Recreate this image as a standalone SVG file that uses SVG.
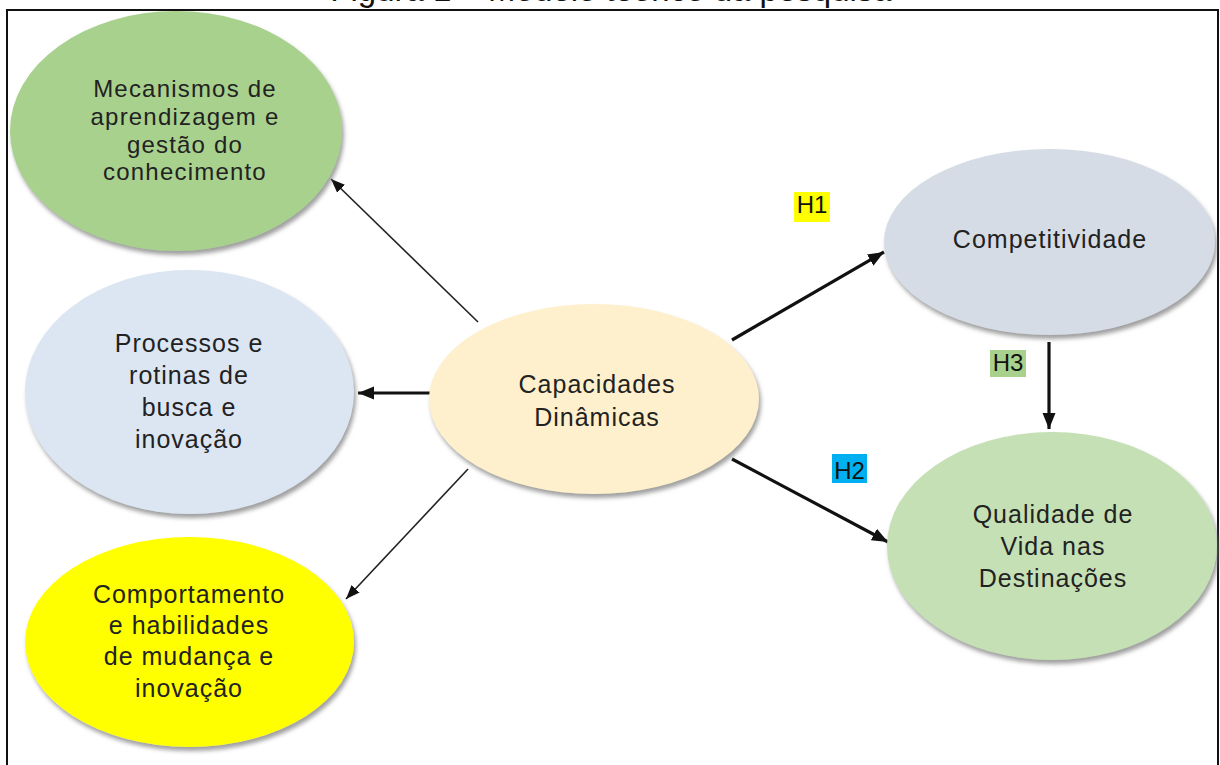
<svg xmlns="http://www.w3.org/2000/svg" width="1220" height="765" viewBox="0 0 1220 765">
<style>
  .t { font-family: "Liberation Sans", Arial, sans-serif; font-size: 25px; fill: #222; text-anchor: middle; letter-spacing: 1px; }
  .tg { font-size: 24px; letter-spacing: 1.2px; }
  .h { font-family: "Liberation Sans", Arial, sans-serif; font-size: 24px; fill: #111; text-anchor: middle; }
  .thin { stroke: #222; stroke-width: 1.6; fill: none; }
  .thick { stroke: #111; stroke-width: 3.2; fill: none; }
  .node { filter: url(#sh); }
</style>
<defs>
  <filter id="sh" x="-10%" y="-10%" width="125%" height="130%">
    <feDropShadow dx="2" dy="4" stdDeviation="2" flood-color="#777" flood-opacity="0.7"/>
  </filter>
  <marker id="aThin" markerUnits="userSpaceOnUse" markerWidth="16" markerHeight="14" refX="14" refY="7" orient="auto">
    <path d="M0,1.5 L14,7 L0,12.5 Z" fill="#111"/>
  </marker>
  <marker id="aThick" markerUnits="userSpaceOnUse" markerWidth="18" markerHeight="16" refX="16" refY="8" orient="auto">
    <path d="M0,1.5 L16,8 L0,14.5 Z" fill="#111"/>
  </marker>
</defs>
<rect width="1220" height="765" fill="#fff"/>
<text x="611" y="0.5" class="h" style="font-size:33px">Figura 1 – Modelo teórico da pesquisa</text>
<rect x="7" y="10" width="1211" height="780" fill="none" stroke="#111" stroke-width="2"/>

<g id="connectors">
  <line class="thin" x1="478" y1="322" x2="331" y2="179" marker-end="url(#aThin)"/>
  <line class="thick" x1="433" y1="393" x2="358" y2="393" marker-end="url(#aThick)"/>
  <line class="thin" x1="468" y1="469" x2="346" y2="599" marker-end="url(#aThin)"/>
  <line class="thick" x1="732" y1="340" x2="884" y2="252" marker-end="url(#aThick)"/>
  <line class="thick" x1="732" y1="459" x2="888" y2="542" marker-end="url(#aThick)"/>
  <line class="thick" x1="1049" y1="342" x2="1049" y2="429" marker-end="url(#aThick)"/>
</g>

<g id="n-mecanismos">
  <ellipse class="node" cx="176" cy="131" rx="166" ry="120" fill="#A9D18E"/>
  <text class="t tg" x="185" y="97">Mecanismos de</text>
  <text class="t tg" x="185" y="125">aprendizagem e</text>
  <text class="t tg" x="185" y="152.5">gestão do</text>
  <text class="t tg" x="185" y="180">conhecimento</text>
</g>

<g id="n-processos">
  <ellipse class="node" cx="189.5" cy="392" rx="164.5" ry="122" fill="#DCE6F2"/>
  <text class="t" x="189" y="352">Processos e</text>
  <text class="t" x="189" y="384">rotinas de</text>
  <text class="t" x="189" y="416">busca e</text>
  <text class="t" x="189" y="448">inovação</text>
</g>

<g id="n-comportamento">
  <ellipse class="node" cx="189.5" cy="642" rx="164.5" ry="105" fill="#FFFF00"/>
  <text class="t" x="189" y="603">Comportamento</text>
  <text class="t" x="189" y="634">e habilidades</text>
  <text class="t" x="189" y="665">de mudança e</text>
  <text class="t" x="189" y="697">inovação</text>
</g>

<g id="n-capacidades">
  <ellipse class="node" cx="594" cy="399" rx="165" ry="95" fill="#FEF0CC"/>
  <text class="t" x="597" y="393">Capacidades</text>
  <text class="t" x="597" y="426">Dinâmicas</text>
</g>

<g id="n-competitividade">
  <ellipse class="node" cx="1049.5" cy="242" rx="165.5" ry="93" fill="#D6DCE5"/>
  <text class="t" x="1050" y="248">Competitividade</text>
</g>

<g id="n-qualidade">
  <ellipse class="node" cx="1052" cy="546" rx="165" ry="114" fill="#C5E0B4"/>
  <text class="t" x="1053" y="523">Qualidade de</text>
  <text class="t" x="1053" y="555">Vida nas</text>
  <text class="t" x="1053" y="587">Destinações</text>
</g>

<g id="labels">
  <rect x="794" y="192" width="36" height="30" fill="#FFFF00"/>
  <text class="h" x="812" y="213">H1</text>
  <rect x="832" y="454" width="35" height="29" fill="#00B0F0"/>
  <text class="h" x="849.5" y="479">H2</text>
  <rect x="990" y="350" width="36" height="27" fill="#A9D18E"/>
  <text class="h" x="1008" y="371">H3</text>
</g>
</svg>
